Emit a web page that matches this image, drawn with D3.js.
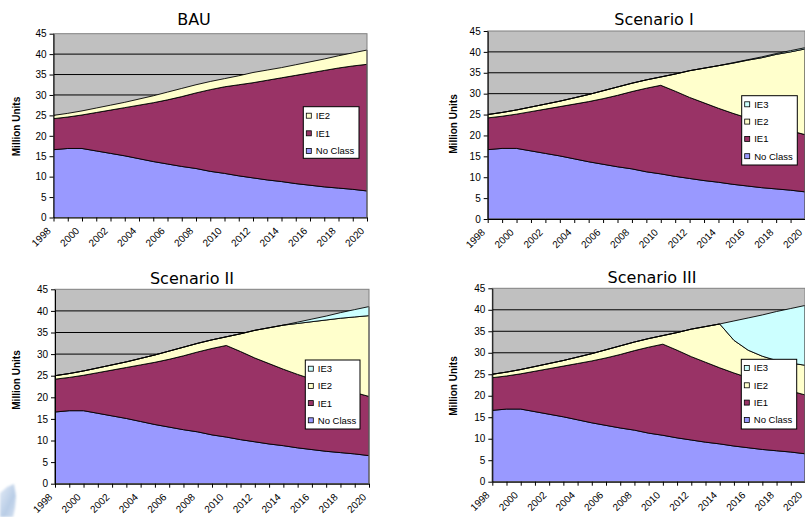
<!DOCTYPE html>
<html>
<head>
<meta charset="utf-8">
<script src="https://cdn.jsdelivr.net/npm/d3@7/dist/d3.min.js"></script>
<style>
  html, body { margin: 0; padding: 0; background: #ffffff; }
  svg { display: block; }
</style>
</head>
<body>
<svg id="chart" width="805" height="517"></svg>
<script>
// ---- data: million units by efficiency class, 1998-2020 ----
const years = [1998, 1999, 2000, 2001, 2002, 2003, 2004, 2005, 2006, 2007, 2008, 2009,
               2010, 2011, 2012, 2013, 2014, 2015, 2016, 2017, 2018, 2019, 2020];
const xLabelYears = [1998, 2000, 2002, 2004, 2006, 2008, 2010, 2012, 2014, 2016, 2018, 2020];
const yTicks = [0, 5, 10, 15, 20, 25, 30, 35, 40, 45];

const noClass  = [16.6, 16.9, 16.9, 16.3, 15.7, 15.1, 14.4, 13.7, 13.1, 12.5, 12.0, 11.3,
                  10.8, 10.2, 9.7, 9.2, 8.8, 8.3, 7.9, 7.5, 7.2, 6.9, 6.5];

// BAU
const bauIE1   = [7.6, 7.7, 8.2, 9.4, 10.6, 11.8, 13.1, 14.4, 15.7, 17.1, 18.5, 20.0,
                  21.2, 22.3, 23.3, 24.4, 25.4, 26.5, 27.5, 28.5, 29.4, 30.2, 31.0];
const bauIE2   = [0.8, 0.9, 1.0, 1.1, 1.2, 1.3, 1.5, 1.7, 1.9, 2.0, 2.0, 2.0,
                  2.0, 2.2, 2.5, 2.5, 2.5, 2.6, 2.7, 2.8, 3.0, 3.2, 3.5];

// IE1 is shared by the three policy scenarios
const scenIE1  = [7.6, 7.7, 8.2, 9.4, 10.6, 11.8, 13.1, 14.4, 15.7, 17.1, 18.5, 20.0,
                  21.2, 20.4, 19.4, 18.6, 17.7, 17.0, 16.3, 15.6, 14.9, 14.2, 13.7];

// Scenario I
const s1IE2    = [0.8, 0.9, 1.0, 1.1, 1.2, 1.3, 1.5, 1.7, 1.9, 2.0, 2.0, 2.0,
                  2.0, 4.1, 6.4, 8.3, 10.2, 12.0, 13.8, 15.5, 17.3, 18.9, 20.5];
const s1IE3    = [0, 0, 0, 0, 0, 0, 0, 0, 0, 0, 0, 0,
                  0, 0, 0, 0, 0, 0.1, 0.1, 0.2, 0.2, 0.3, 0.3];

// Scenario II
const s2IE2    = [0.8, 0.9, 1.0, 1.1, 1.2, 1.3, 1.5, 1.7, 1.9, 2.0, 2.0, 2.0,
                  2.0, 4.1, 6.4, 8.3, 10.2, 11.8, 13.3, 14.8, 16.2, 17.5, 18.7];
const s2IE3    = [0, 0, 0, 0, 0, 0, 0, 0, 0, 0, 0, 0,
                  0, 0, 0, 0, 0, 0.3, 0.6, 0.9, 1.3, 1.7, 2.1];

// Scenario III
const s3IE2    = [0.8, 0.9, 1.0, 1.1, 1.2, 1.3, 1.5, 1.7, 1.9, 2.0, 2.0, 2.0,
                  2.0, 4.1, 6.4, 8.3, 10.2, 7.6, 6.4, 6.1, 6.1, 6.5, 6.9];
const s3IE3    = [0, 0, 0, 0, 0, 0, 0, 0, 0, 0, 0, 0,
                  0, 0, 0, 0, 0, 4.5, 7.5, 9.6, 11.4, 12.7, 13.9];

// ---- styling ----
const colors = { noClass: '#9999FF', ie1: '#993366', ie2: '#FFFFCC', ie3: '#CCFFFF' };
const names  = { noClass: 'No Class', ie1: 'IE1', ie2: 'IE2', ie3: 'IE3' };
const tickFont = '"Liberation Sans", Arial, sans-serif';

const panels = [
  { title: 'BAU', keys: ['noClass', 'ie1', 'ie2'],
    values: { noClass: noClass, ie1: bauIE1, ie2: bauIE2 },
    plot: { left: 53.5, top: 33.7, right: 367, bottom: 217.5 },
    titlePos: [194, 25], yLabelPos: [20, 126.5],
    legend: { x: 303.3, y: 106.7, w: 55.7, h: 51.6, first: 9, step: 17.6 } },
  { title: 'Scenario I', keys: ['noClass', 'ie1', 'ie2', 'ie3'],
    values: { noClass: noClass, ie1: scenIE1, ie2: s1IE2, ie3: s1IE3 },
    plot: { left: 487.7, top: 31, right: 805, bottom: 219 },
    titlePos: [654, 25], yLabelPos: [457, 124],
    legend: { x: 741.7, y: 95.7, w: 55.6, h: 69.3, first: 8.6, step: 17.3 } },
  { title: 'Scenario II', keys: ['noClass', 'ie1', 'ie2', 'ie3'],
    values: { noClass: noClass, ie1: scenIE1, ie2: s2IE2, ie3: s2IE3 },
    plot: { left: 55, top: 289.3, right: 369, bottom: 483.7 },
    titlePos: [192, 284], yLabelPos: [19.5, 380],
    legend: { x: 305.3, y: 360, w: 54.7, h: 69, first: 8.7, step: 17.2 } },
  { title: 'Scenario III', keys: ['noClass', 'ie1', 'ie2', 'ie3'],
    values: { noClass: noClass, ie1: scenIE1, ie2: s3IE2, ie3: s3IE3 },
    plot: { left: 492.3, top: 288.3, right: 805, bottom: 481.7 },
    titlePos: [652, 283], yLabelPos: [457, 386],
    legend: { x: 741.3, y: 359.3, w: 55.4, h: 69.7, first: 8.7, step: 17.3 } }
];

const svg = d3.select('#chart');

// soft bluish fragment of a graphic sitting at the bottom-left corner
const defs = svg.append('defs');
const grad = defs.append('linearGradient').attr('id', 'cornerGrad')
  .attr('x1', 0).attr('y1', 0).attr('x2', 1).attr('y2', 1);
grad.append('stop').attr('offset', '0%').attr('stop-color', '#e4ecf7');
grad.append('stop').attr('offset', '60%').attr('stop-color', '#b9cde6');
grad.append('stop').attr('offset', '100%').attr('stop-color', '#d6e2f2');
defs.append('filter').attr('id', 'soft').append('feGaussianBlur').attr('stdDeviation', 0.9);
svg.append('path')
  .attr('d', 'M0,493 L7,487 L14,484 L16,496 L15,508 L13,517 L0,517 Z')
  .attr('fill', 'url(#cornerGrad)')
  .attr('filter', 'url(#soft)');

function drawPanel(p) {
  const g = svg.append('g');
  const { left, top, right, bottom } = p.plot;

  const x = d3.scaleLinear().domain([years[0], years[years.length - 1]]).range([left, right]);
  const y = d3.scaleLinear().domain([0, 45]).range([bottom, top]);

  // plot area
  g.append('rect')
    .attr('x', left).attr('y', top)
    .attr('width', right - left).attr('height', bottom - top)
    .attr('fill', '#C0C0C0');

  // gridlines
  g.append('g').selectAll('line')
    .data(yTicks.filter(t => t > 0 && t < 45))
    .join('line')
    .attr('x1', left).attr('x2', right)
    .attr('y1', d => y(d)).attr('y2', d => y(d))
    .attr('stroke', '#000').attr('stroke-width', 1);

  // stacked areas
  const rows = years.map((yr, i) => {
    const r = { year: yr };
    p.keys.forEach(k => { r[k] = p.values[k][i]; });
    return r;
  });
  const stacked = d3.stack().keys(p.keys)(rows);
  const area = d3.area()
    .x(d => x(d.data.year))
    .y0(d => y(d[0]))
    .y1(d => y(d[1]));

  g.append('g').selectAll('path')
    .data(stacked)
    .join('path')
    .attr('d', area)
    .attr('fill', d => colors[d.key])
    .attr('stroke', '#000')
    .attr('stroke-width', 0.9)
    .attr('stroke-linejoin', 'round');

  // plot border
  g.append('rect')
    .attr('x', left).attr('y', top)
    .attr('width', right - left).attr('height', bottom - top)
    .attr('fill', 'none').attr('stroke', '#808080').attr('stroke-width', 1);

  // y axis
  const yAxis = d3.axisLeft(y).tickValues(yTicks).tickSize(4).tickSizeOuter(0).tickPadding(3);
  const ya = g.append('g').attr('transform', `translate(${left},0)`).call(yAxis);
  ya.select('.domain').attr('stroke', '#000');
  ya.selectAll('.tick line').attr('stroke', '#000');
  ya.selectAll('.tick text')
    .attr('font-family', tickFont).attr('font-size', 10).attr('fill', '#000');

  // x axis: a tick per year, labels every second year
  const xAxis = d3.axisBottom(x).tickValues(years).tickSize(4).tickSizeOuter(0)
    .tickFormat(d => (xLabelYears.includes(d) ? String(d) : ''));
  const xa = g.append('g').attr('transform', `translate(0,${bottom})`).call(xAxis);
  xa.select('.domain').attr('stroke', '#000');
  xa.selectAll('.tick line').attr('stroke', '#000');
  xa.selectAll('.tick text')
    .attr('font-family', tickFont).attr('font-size', 10).attr('fill', '#000')
    .attr('text-anchor', 'end')
    .attr('dy', 0)
    .attr('y', 0)
    .attr('transform', 'translate(-2.5,14) rotate(-45)');

  // title
  g.append('text')
    .attr('x', p.titlePos[0]).attr('y', p.titlePos[1])
    .attr('text-anchor', 'middle')
    .attr('font-family', '"DejaVu Sans", Verdana, sans-serif')
    .attr('font-size', 16)
    .attr('fill', '#000')
    .text(p.title);

  // y axis title
  g.append('text')
    .attr('transform', `translate(${p.yLabelPos[0]},${p.yLabelPos[1]}) rotate(-90)`)
    .attr('text-anchor', 'middle')
    .attr('font-family', tickFont)
    .attr('font-size', 10)
    .attr('font-weight', 'bold')
    .attr('fill', '#000')
    .text('Million Units');

  // legend (top entry = top of stack)
  const L = p.legend;
  const lg = g.append('g').attr('transform', `translate(${L.x},${L.y})`);
  lg.append('rect')
    .attr('width', L.w).attr('height', L.h)
    .attr('fill', '#fff').attr('stroke', '#000').attr('stroke-width', 1);
  const items = p.keys.slice().reverse();
  const it = lg.selectAll('g.item').data(items).join('g')
    .attr('transform', (d, i) => `translate(0,${L.first + i * L.step})`);
  it.append('rect')
    .attr('x', 3).attr('y', -2.5).attr('width', 5).attr('height', 5)
    .attr('fill', d => colors[d]).attr('stroke', '#000').attr('stroke-width', 0.8);
  it.append('text')
    .attr('x', 12.5).attr('y', 3.4)
    .attr('font-family', tickFont).attr('font-size', 9.5).attr('fill', '#000')
    .text(d => names[d]);
}

panels.forEach(drawPanel);
</script>
</body>
</html>
